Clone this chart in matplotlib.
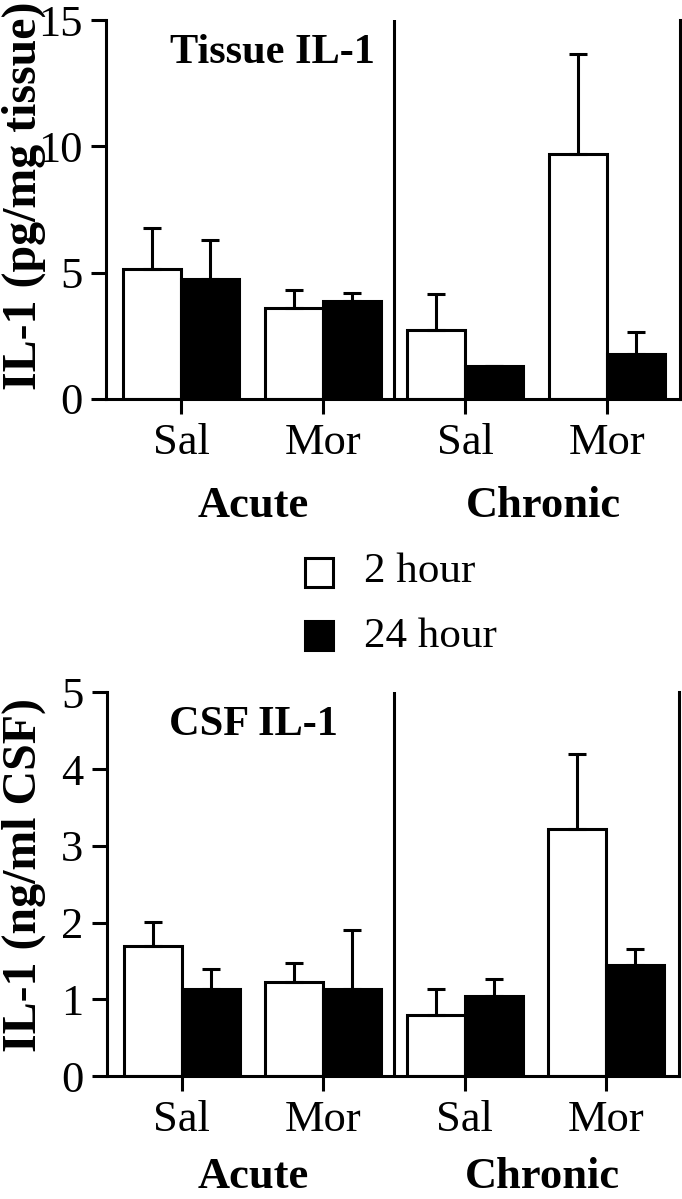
import matplotlib
matplotlib.use('Agg')
import matplotlib.pyplot as plt
import numpy as np
from matplotlib import transforms
from matplotlib.patches import Rectangle

plt.rcParams['font.family'] = ['Liberation Serif', 'DejaVu Serif']

# ---------------- data ----------------
treatments = ['Sal', 'Mor', 'Sal', 'Mor']
groups = ['Acute', 'Chronic']
series = ['2 hour', '24 hour']

tissue_2h = [5.14, 3.62, 2.74, 9.70]
tissue_2h_err = [1.64, 0.68, 1.43, 3.97]
tissue_24h = [4.73, 3.86, 1.32, 1.78]
tissue_24h_err = [1.55, 0.35, 0.0, 0.88]

csf_2h = [1.69, 1.22, 0.80, 3.22]
csf_2h_err = [0.32, 0.25, 0.33, 0.97]
csf_24h = [1.14, 1.14, 1.04, 1.45]
csf_24h_err = [0.26, 0.76, 0.23, 0.21]

tissue_ticks = [0, 5, 10, 15]
csf_ticks = [0, 1, 2, 3, 4, 5]

# ---------------- figure ----------------
W, H = 682, 1199
fig = plt.figure(figsize=(W / 100, H / 100), dpi=100)

LW = 2.2
x = np.arange(len(treatments))
w = 0.41
xlim = (-0.528, 3.514)


def panel(rect, v2, e2, v24, e24, ticks, title, title_x, title_y, ylabel, ylabel_xy, group_drop):
    ax = fig.add_axes(rect)
    ax.bar(x - w / 2, v2, w, color='white', edgecolor='black', linewidth=LW, zorder=2)
    ax.bar(x + w / 2, v24, w, color='black', edgecolor='black', linewidth=LW, zorder=2)
    for xs, v, e in ((x - w / 2, v2, e2), (x + w / 2, v24, e24)):
        ax.errorbar(xs, v, yerr=[np.zeros(len(v)), e], fmt='none', ecolor='black',
                    elinewidth=LW, capsize=6.4, capthick=LW, zorder=3)
    ax.axvline(1.5, color='black', linewidth=LW, zorder=4)
    ax.set_xlim(*xlim)
    ax.set_ylim(ticks[0], ticks[-1])
    ax.set_yticks(ticks)
    ax.set_xticks(x)
    ax.set_xticklabels(treatments)
    for s in ('left', 'right', 'bottom'):
        ax.spines[s].set_linewidth(LW)
    ax.spines['top'].set_visible(False)
    ax.tick_params(axis='both', direction='out', length=10.5, width=LW,
                   labelsize=32, pad=6.5)
    ax.tick_params(axis='y', right=False)
    ax.text(title_x, title_y, title, transform=transforms.blended_transform_factory(ax.transData, ax.transAxes),
            fontsize=30.5, fontweight='bold', ha='left', va='baseline')
    gt = transforms.blended_transform_factory(ax.transData, ax.transAxes) + \
        transforms.ScaledTranslation(0, -group_drop / 100, fig.dpi_scale_trans)
    for gx, g in zip((0.507, 2.55), groups):
        ax.text(gx, 0, g, transform=gt, fontsize=32, fontweight='bold',
                ha='center', va='baseline')
    fig.text(ylabel_xy[0], ylabel_xy[1], ylabel, rotation=90, fontsize=34.5,
             fontweight='bold', ha='center', va='center')
    return ax


def frect(l, r, t, b):
    return [l / W, 1 - b / H, (r - l) / W, (b - t) / H]


panel(frect(106, 680, 20, 399), tissue_2h, tissue_2h_err, tissue_24h, tissue_24h_err,
      tissue_ticks, 'Tissue IL-1', -0.077, 0.886, 'IL-1 (pg/mg tissue)',
      (23.5 / W, 1 - 196 / H), 118)
panel(frect(107, 679, 692.3, 1076), csf_2h, csf_2h_err, csf_24h, csf_24h_err,
      csf_ticks, 'CSF IL-1', -0.09, 0.889, 'IL-1 (ng/ml CSF)',
      (23.5 / W, 1 - 874.5 / H), 112)

# ---------------- legend ----------------
colors = ['white', 'black']
sq_top = [558.2, 621.5]
txt_base = [581.7, 646.7]
for lab, c, t, b in zip(series, colors, sq_top, txt_base):
    fig.add_artist(Rectangle((304.8 / W, 1 - (t + 28.5) / H), 28.5 / W, 28.5 / H,
                             transform=fig.transFigure, facecolor=c,
                             edgecolor='black', linewidth=LW))
    fig.text(364.5 / W, 1 - b / H, lab, fontsize=31, ha='left', va='baseline')

fig.savefig('out.png', dpi=100)
